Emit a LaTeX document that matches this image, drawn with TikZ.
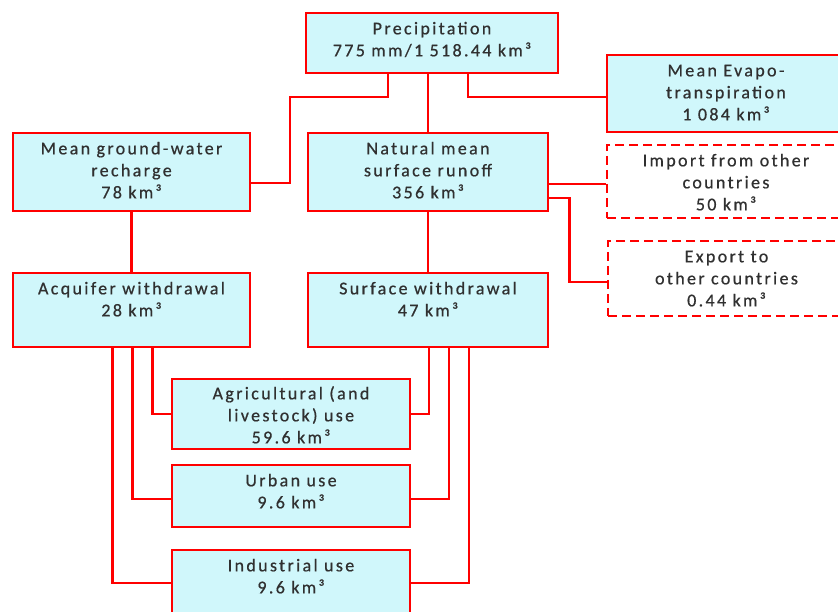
\documentclass[tikz,border=0pt]{standalone}
\usepackage{fontspec}
\setmainfont{Carlito}[LetterSpace=13, FakeBold=0.6]
\definecolor{boxfill}{HTML}{D0F7FB}
\definecolor{txtgray}{HTML}{303030}
\definecolor{linered}{HTML}{FF0000}
\begin{document}
\begin{tikzpicture}[x=1pt,y=-1pt,
  box/.style={rectangle, draw=linered, line width=2.5pt, fill=boxfill, inner sep=0pt},
  dbox/.style={rectangle, draw=linered, line width=2.5pt, dash pattern=on 9pt off 5pt, fill=white, inner sep=0pt},
  txt/.style={anchor=north, align=center, inner sep=0pt, text=txtgray, font=\fontsize{18}{22}\selectfont},
  conn/.style={draw=linered, line width=2.5pt}]
\useasboundingbox (0,0) rectangle (838,612);
\fill[white] (0,0) rectangle (838,612);

% boxes
\node[box, minimum width=252pt, minimum height=60pt] (precip) at (432,43) {};
\node[box, minimum width=238pt, minimum height=77pt] (evapo) at (726,93.5) {};
\node[box, minimum width=237pt, minimum height=78pt] (gw) at (131.5,172) {};
\node[box, minimum width=240pt, minimum height=78pt] (runoff) at (428,172) {};
\node[dbox, minimum width=238pt, minimum height=73pt] (import) at (726,181.5) {};
\node[dbox, minimum width=237pt, minimum height=75pt] (export) at (726.5,278.5) {};
\node[box, minimum width=237pt, minimum height=74pt] (acq) at (131.5,310) {};
\node[box, minimum width=240pt, minimum height=74pt] (surf) at (428,310) {};
\node[box, minimum width=238pt, minimum height=70pt] (agri) at (291,414) {};
\node[box, minimum width=238pt, minimum height=62pt] (urban) at (291,496) {};
\node[box, minimum width=238pt, minimum height=66pt] (indus) at (291,583) {};

% texts
\node[txt] (precipT) at ([yshift=-7pt]precip.north) {\strut Precipitation\\775 mm/1 518.44 km³};
\node[txt] (evapoT) at ([yshift=-7pt]evapo.north) {\strut Mean Evapo-\\transpiration\\1 084 km³};
\node[txt] (gwT) at ([yshift=-7pt]gw.north) {\strut Mean ground-water\\recharge\\78 km³};
\node[txt] (runoffT) at ([yshift=-7pt]runoff.north) {\strut Natural mean\\surface runoff\\356 km³};
\node[txt] (importT) at ([yshift=-7pt]import.north) {\strut Import from other\\countries\\50 km³};
\node[txt] (exportT) at ([yshift=-7pt]export.north) {\strut Export to\\other countries\\0.44 km³};
\node[txt] (acqT) at ([yshift=-7pt]acq.north) {\strut Acquifer withdrawal\\28 km³};
\node[txt] (surfT) at ([yshift=-7pt]surf.north) {\strut Surface withdrawal\\47 km³};
\node[txt] (agriT) at ([yshift=-6pt]agri.north) {\strut Agricultural (and\\livestock) use\\59.6 km³};
\node[txt] (urbanT) at ([yshift=-7pt]urban.north) {\strut Urban use\\9.6 km³};
\node[txt] (indusT) at ([yshift=-7pt]indus.north) {\strut Industrial use\\9.6 km³};

% connectors
\coordinate (b1) at (290,97);
\draw[conn] ([xshift=-44pt]precip.south) |- (b1) |- ([yshift=-11pt]gw.east);
\draw[conn] (precip.south -| runoff.north) -- (runoff.north);
\draw[conn] ([xshift=36pt]precip.south) |- ([yshift=-3.5pt]evapo.west);
\draw[conn] (gw.south) -- (acq.north);
\draw[conn] (runoff.south) -- (surf.north);
\coordinate (r1) at ([yshift=-12pt]runoff.east);
\draw[conn] (r1) -- (r1 -| import.west);
\coordinate (r2) at ([yshift=-26pt]runoff.east);
\draw[conn] (r2) -- ++(20,0) |- ([yshift=-3.5pt]export.west);

\draw[conn] ([xshift=21pt]acq.south) |- (agri.west);
\draw[conn] ([xshift=1pt]acq.south) |- ([yshift=-3pt]urban.west);
\draw[conn] ([xshift=-19pt]acq.south) |- (indus.west);
\draw[conn] ([xshift=1pt]surf.south) |- (agri.east);
\draw[conn] ([xshift=21pt]surf.south) |- ([yshift=-3pt]urban.east);
\draw[conn] ([xshift=41pt]surf.south) |- (indus.east);
\end{tikzpicture}
\end{document}
